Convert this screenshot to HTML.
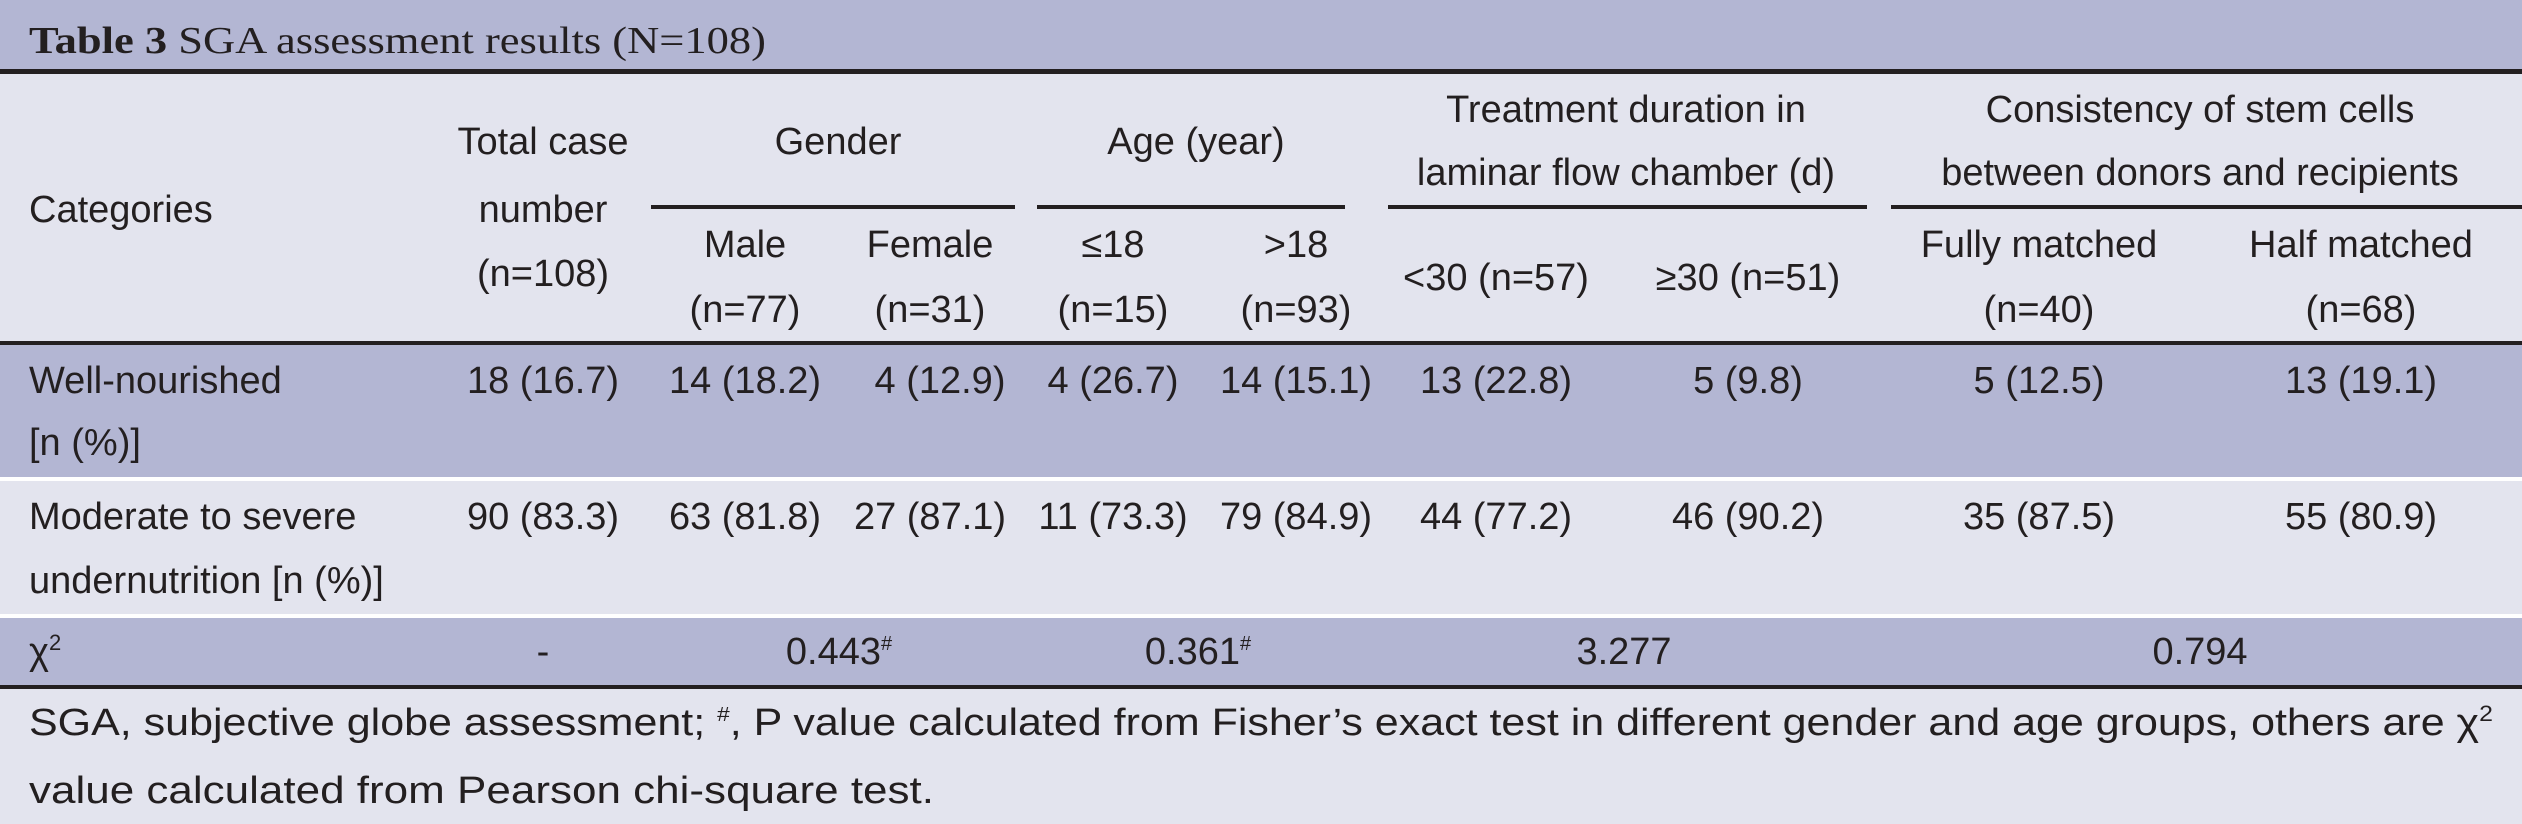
<!DOCTYPE html>
<html><head><meta charset="utf-8"><style>
html,body{margin:0;padding:0;background:#e3e4ee;}
svg{display:block;}
text{font-family:"Liberation Sans","DejaVu Sans",sans-serif;font-size:38px;fill:#231f20;}
.serif{font-family:"Liberation Serif",serif;}
</style></head><body>
<svg width="2522" height="824" viewBox="0 0 2522 824">
<rect x="0" y="0" width="2522" height="824" fill="#e3e4ee"/>
<rect x="0" y="0" width="2522" height="70" fill="#b3b6d3"/>
<rect x="0" y="69" width="2522" height="5" fill="#231f20"/>
<rect x="0" y="341" width="2522" height="4" fill="#231f20"/>
<rect x="0" y="345" width="2522" height="132" fill="#b3b6d3"/>
<rect x="0" y="477" width="2522" height="4" fill="#ffffff"/>
<rect x="0" y="614" width="2522" height="4" fill="#ffffff"/>
<rect x="0" y="618" width="2522" height="67" fill="#b3b6d3"/>
<rect x="0" y="685" width="2522" height="4" fill="#231f20"/>
<rect x="651" y="205" width="364" height="4" fill="#231f20"/>
<rect x="1037" y="205" width="308" height="4" fill="#231f20"/>
<rect x="1388" y="205" width="479" height="4" fill="#231f20"/>
<rect x="1891" y="205" width="631" height="4" fill="#231f20"/>

<text class="serif" x="29" y="53" font-size="40" textLength="737" lengthAdjust="spacingAndGlyphs"><tspan font-weight="bold">Table 3</tspan> SGA assessment results (N=108)</text>

<g text-anchor="middle">
<text x="29" y="222" text-anchor="start">Categories</text>
<text x="543" y="154">Total case</text>
<text x="543" y="222">number</text>
<text x="543" y="286">(n=108)</text>
<text x="838" y="154">Gender</text>
<text x="1196" y="154">Age (year)</text>
<text x="1626" y="122">Treatment duration in</text>
<text x="1626" y="185">laminar flow chamber (d)</text>
<text x="2200" y="122">Consistency of stem cells</text>
<text x="2200" y="185">between donors and recipients</text>
<text x="745" y="257">Male</text>
<text x="745" y="322">(n=77)</text>
<text x="930" y="257">Female</text>
<text x="930" y="322">(n=31)</text>
<text x="1113" y="257">≤18</text>
<text x="1113" y="322">(n=15)</text>
<text x="1296" y="257">&gt;18</text>
<text x="1296" y="322">(n=93)</text>
<text x="1496" y="290">&lt;30 (n=57)</text>
<text x="1748" y="290">≥30 (n=51)</text>
<text x="2039" y="257">Fully matched</text>
<text x="2039" y="322">(n=40)</text>
<text x="2361" y="257">Half matched</text>
<text x="2361" y="322">(n=68)</text>
</g>

<g text-anchor="middle">
<text x="29" y="393" text-anchor="start">Well-nourished</text>
<text x="29" y="455" text-anchor="start">[n (%)]</text>
<text x="543" y="393">18 (16.7)</text>
<text x="745" y="393">14 (18.2)</text>
<text x="940" y="393">4 (12.9)</text>
<text x="1113" y="393">4 (26.7)</text>
<text x="1296" y="393">14 (15.1)</text>
<text x="1496" y="393">13 (22.8)</text>
<text x="1748" y="393">5 (9.8)</text>
<text x="2039" y="393">5 (12.5)</text>
<text x="2361" y="393">13 (19.1)</text>

<text x="29" y="529" text-anchor="start">Moderate to severe</text>
<text x="29" y="593" text-anchor="start">undernutrition [n (%)]</text>
<text x="543" y="529">90 (83.3)</text>
<text x="745" y="529">63 (81.8)</text>
<text x="930" y="529">27 (87.1)</text>
<text x="1113" y="529">11 (73.3)</text>
<text x="1296" y="529">79 (84.9)</text>
<text x="1496" y="529">44 (77.2)</text>
<text x="1748" y="529">46 (90.2)</text>
<text x="2039" y="529">35 (87.5)</text>
<text x="2361" y="529">55 (80.9)</text>

<text x="29" y="664" text-anchor="start">χ<tspan font-size="22" dy="-14">2</tspan></text>
<text x="543" y="664">-</text>
<text x="839" y="664">0.443<tspan font-size="20" dy="-14">#</tspan></text>
<text x="1198" y="664">0.361<tspan font-size="20" dy="-14">#</tspan></text>
<text x="1624" y="664">3.277</text>
<text x="2200" y="664">0.794</text>
</g>

<text x="29" y="735" textLength="2464" lengthAdjust="spacingAndGlyphs">SGA, subjective globe assessment; <tspan font-size="20" dy="-14">#</tspan><tspan dy="14">, P value calculated from Fisher’s exact test in different gender and age groups, others are χ</tspan><tspan font-size="22" dy="-14">2</tspan></text>
<text x="29" y="803" textLength="905" lengthAdjust="spacingAndGlyphs">value calculated from Pearson chi-square test.</text>
</svg>
</body></html>
